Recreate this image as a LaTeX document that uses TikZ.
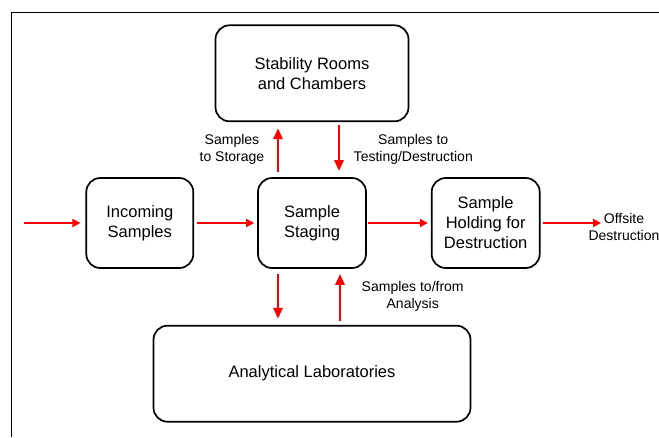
\documentclass[tikz,border=0pt]{standalone}
\usepackage{fontspec}
\setmainfont{Liberation Sans}
\usetikzlibrary{arrows.meta,positioning}

\begin{document}
\begin{tikzpicture}[
  x=1pt, y=-1pt,
  font=\fontsize{16.5}{20}\selectfont,
  box/.style={draw, line width=1.7pt, rounded corners=14pt, align=center, inner sep=0pt},
  lbl/.style={align=center, text=black, font=\fontsize{14}{17}\selectfont},
  arrow/.style={-{Triangle[length=8pt,width=8pt]}, red, line width=1.9pt},
  varrow/.style={-{Triangle[length=11pt,width=9pt]}, red, line width=2.8pt}
]
\useasboundingbox (0,0) rectangle (659,437);
\draw[line width=1pt] (11,437) -- (11,12) -- (659,12);

\node[box, minimum width=108pt, minimum height=90pt] (staging) at (312,223) {Sample\\Staging};
\node[box, minimum width=107pt, minimum height=90pt, left=63pt of staging] (incoming) {Incoming\\Samples};
\node[box, minimum width=108pt, minimum height=90pt, right=64pt of staging] (holding) {Sample\\Holding for\\Destruction};
\node[box, minimum width=193pt, minimum height=96pt, above=55pt of staging] (stability) {Stability Rooms\\and Chambers};
\node[box, minimum width=317pt, minimum height=96pt, below=56pt of staging] (labs) {Analytical Laboratories};
\node[lbl] (offsite) at (624,227) {Offsite\\Destruction};
\coordinate (instart) at (24,223);
\coordinate (outend) at (601,223);

% flow left to right
\draw[arrow, shorten >=5pt] (instart) -- (incoming);
\draw[arrow, shorten <=3pt, shorten >=3pt] (incoming) -- (staging);
\draw[arrow, shorten <=1pt, shorten >=3pt] (staging) -- (holding);
\draw[arrow, shorten <=2pt] (holding) -- (outend);

% storage and laboratories
\draw[varrow, shorten <=5pt, shorten >=6pt] ([xshift=-34pt]staging.north) -- ([xshift=-34pt]stability.south)
  node[lbl, midway, left=9pt] {Samples\\to Storage};
\draw[varrow, shorten <=3pt, shorten >=6pt] ([xshift=27pt]stability.south) -- ([xshift=27pt]staging.north)
  node[lbl, midway, right=10pt] {Samples to\\Testing/Destruction};
\draw[varrow, shorten <=5pt, shorten >=6pt] ([xshift=-34pt]staging.south) -- ([xshift=-34pt]labs.north);
\draw[varrow, shorten <=4pt, shorten >=5pt] ([xshift=28pt]labs.north) -- ([xshift=28pt]staging.south)
  node[lbl, midway, right=17pt] {Samples to/from\\Analysis};
\end{tikzpicture}
\end{document}
